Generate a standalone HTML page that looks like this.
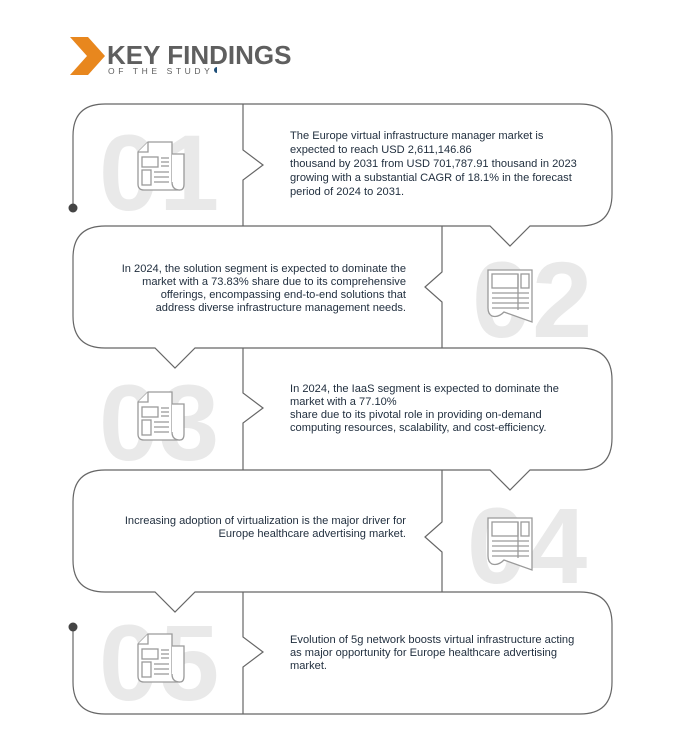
<!DOCTYPE html>
<html><head><meta charset="utf-8"><style>
html,body{margin:0;padding:0;background:#fff;}
svg{display:block}
.t{font-family:"Liberation Sans",sans-serif;font-size:11.1px;fill:#1f2d3d;}
.n{font-family:"Liberation Sans",sans-serif;font-weight:bold;font-size:108px;fill:#e9e9e9;}
.ln{fill:none;stroke:#666;stroke-width:1.2;}
.ic{fill:#fff;stroke:#9a9a9a;stroke-width:1.3;}
.il{stroke:#9a9a9a;stroke-width:1.3;}
</style></head><body>
<svg width="690" height="745" viewBox="0 0 690 745" xmlns="http://www.w3.org/2000/svg">
<defs>
<g id="icA">
  <path class="ic" d="M10,0 L34,0 L34,38 Q34,48 42,48 L6,48 Q0,48 0,42 L0,10 Z"/>
  <path class="ic" d="M34,12 L46,12 L46,42 Q46,48 42,48 Q34,48 34,40"/>
  <path class="ic" d="M0,10 L10,10 L10,0"/>
  <rect class="ic" x="4" y="15" width="16" height="10"/>
  <rect class="ic" x="4" y="28" width="9" height="15"/>
  <line class="il" x1="23" y1="16" x2="31" y2="16"/><line class="il" x1="23" y1="20" x2="31" y2="20"/><line class="il" x1="23" y1="24" x2="31" y2="24"/>
  <line class="il" x1="16" y1="30" x2="31" y2="30"/><line class="il" x1="16" y1="35" x2="31" y2="35"/><line class="il" x1="16" y1="40" x2="31" y2="40"/>
</g>
<g id="icB">
  <path class="ic" d="M0,0 L44,0 L44,52 L16,42 Q10,48 4,46 Q0,44 0,38 Z"/>
  <rect class="ic" x="4" y="4" width="26" height="14"/>
  <rect class="ic" x="33" y="4" width="8" height="14"/>
  <line class="il" x1="4" y1="23" x2="41" y2="23"/><line class="il" x1="4" y1="28" x2="41" y2="28"/><line class="il" x1="4" y1="33" x2="41" y2="33"/><line class="il" x1="4" y1="38" x2="41" y2="38"/>
  <line class="il" x1="30" y1="4" x2="30" y2="40"/>
</g>
</defs>
<!-- header -->
<polygon points="70,37 88,37 105,56 88,75 70,75 87,56" fill="#e8871e"/>
<text x="107" y="64" style="font-family:'Liberation Sans',sans-serif;font-weight:bold;font-size:26px;fill:#5f5f5f;">KEY FINDINGS</text>
<text x="108" y="74" style="font-family:'Liberation Sans',sans-serif;font-size:8.5px;letter-spacing:3.6px;fill:#5f5f5f;">OF THE STUDY</text>
<path d="M217,67 A3,3 0 0 0 217,73 Z" fill="#1d4e78"/>

<!-- big numbers -->
<text class="n" x="99" y="210">01</text>
<text class="n" x="472" y="337">02</text>
<text class="n" x="99" y="460">03</text>
<text class="n" x="467" y="583">04</text>
<text class="n" x="99" y="700">05</text>

<use href="#icA" x="138" y="142"/>
<use href="#icB" x="488" y="270"/>
<use href="#icA" x="138" y="392"/>
<use href="#icB" x="488" y="518"/>
<use href="#icA" x="138" y="634"/>

<!-- lines -->
<path class="ln" d="M73,208 L73,136 Q73,104 105,104 L580,104 Q612,104 612,136 L612,194 Q612,226 580,226 L530,226 L510,246 L490,226 L105,226 Q73,226 73,258 L73,316 Q73,348 105,348 L155,348 L175,368 L195,348 L580,348 Q612,348 612,380 L612,438 Q612,470 580,470 L530,470 L510,490 L490,470 L105,470 Q73,470 73,502 L73,560 Q73,592 105,592 L155,592 L175,612 L195,592 L580,592 Q612,592 612,624 L612,682 Q612,714 580,714 L105,714 Q73,714 73,682 L73,627"/>
<path class="ln" d="M243,104 L243,150 L263,165 L243,180 L243,226"/>
<path class="ln" d="M442,226 L442,272 L425,287 L442,302 L442,348"/>
<path class="ln" d="M243,348 L243,393 L263,408 L243,423 L243,470"/>
<path class="ln" d="M442,470 L442,522 L425,537 L442,552 L442,592"/>
<path class="ln" d="M243,592 L243,637 L263,652 L243,667 L243,714"/>
<circle cx="73" cy="208" r="4.5" fill="#444"/>
<circle cx="73" cy="627" r="4.5" fill="#444"/>

<!-- texts -->
<text class="t" x="290" y="139">The Europe virtual infrastructure manager market is</text>
<text class="t" x="290" y="153">expected to reach USD 2,611,146.86</text>
<text class="t" x="290" y="167">thousand by 2031 from USD 701,787.91  thousand in 2023</text>
<text class="t" x="290" y="181">growing with a substantial CAGR of 18.1% in the forecast</text>
<text class="t" x="290" y="195">period of 2024 to 2031.</text>

<g text-anchor="end">
<text class="t" x="406" y="272">In 2024, the solution segment is expected to dominate the</text>
<text class="t" x="406" y="285">market with a 73.83% share due to its comprehensive</text>
<text class="t" x="406" y="298">offerings, encompassing end-to-end solutions that</text>
<text class="t" x="406" y="311">address diverse infrastructure management needs.</text>
<text class="t" x="406" y="524">Increasing adoption of virtualization is the major driver for</text>
<text class="t" x="406" y="537">Europe healthcare advertising market.</text>
</g>

<text class="t" x="290" y="392">In 2024, the IaaS segment is expected to dominate the</text>
<text class="t" x="290" y="405">market with a  77.10%</text>
<text class="t" x="290" y="418">share due to its pivotal role in providing on-demand</text>
<text class="t" x="290" y="431">computing resources, scalability, and cost-efficiency.</text>

<text class="t" x="290" y="643">Evolution of 5g network boosts virtual infrastructure acting</text>
<text class="t" x="290" y="656">as major opportunity for Europe healthcare advertising</text>
<text class="t" x="290" y="669">market.</text>
</svg>
</body></html>
